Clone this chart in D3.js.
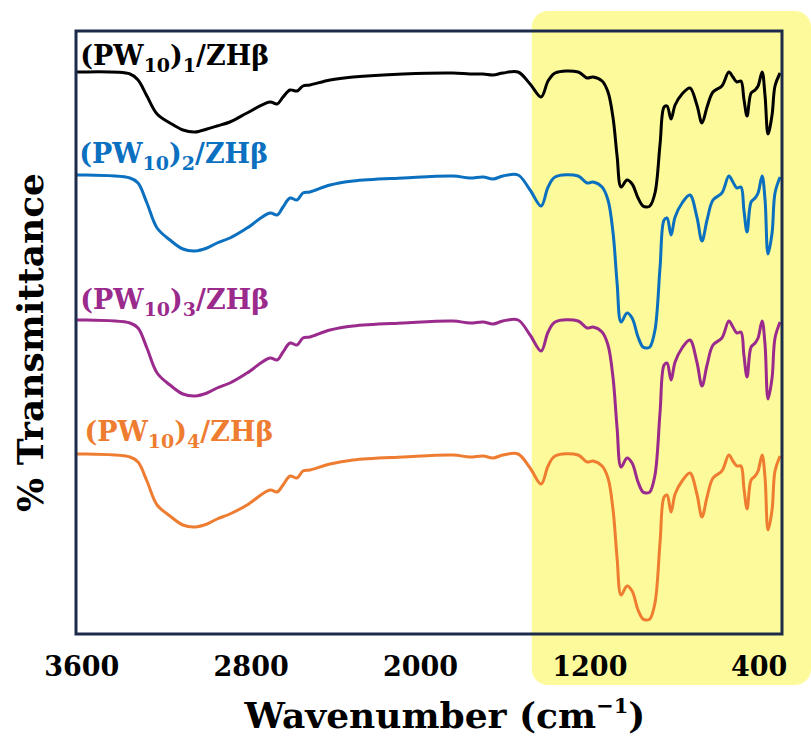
<!DOCTYPE html>
<html>
<head>
<meta charset="utf-8">
<script src="https://cdn.jsdelivr.net/npm/d3@7"></script>
<style>
  html, body { margin: 0; padding: 0; background: #fff; }
  svg { display: block; }
  text { font-family: "DejaVu Serif", serif; font-weight: bold; }
</style>
</head>
<body>
<div id="chart"></div>
<script>
// Wavenumber grid (cm-1), shared by all four spectra
const wavenumbers = [3620, 3605, 3370, 3332, 3290, 3242, 3181, 3120, 3063, 3006,
  2959, 2898, 2817, 2709, 2675, 2647, 2614, 2581, 2553, 2520,
  2425, 2316, 2080, 1844, 1764, 1702, 1655, 1608, 1537, 1480,
  1428, 1395, 1362, 1253, 1211, 1183, 1140, 1112, 1088, 1069,
  1050, 1022, 998, 970, 947, 928, 914, 890, 866, 847,
  833, 814, 795, 762, 725, 692, 668, 644, 616, 574,
  541, 522, 503, 484, 470, 455, 436, 417, 403, 384,
  370, 356, 337, 323, 299];

// Stacked transmittance (offset, arbitrary units)
const pw1 = [56.2, 56.2, 56.0, 55.4, 53.8, 52.0, 51.1, 50.4, 50.2, 50.5,
  50.8, 51.2, 52.1, 53.2, 53.0, 53.7, 54.4, 54.3, 54.8, 54.9,
  55.4, 55.7, 56.0, 56.1, 56.0, 56.0, 55.9, 56.1, 56.2, 55.0,
  53.7, 55.3, 56.1, 56.2, 55.6, 55.7, 55.3, 54.2, 51.6, 47.8,
  44.7, 45.4, 45.0, 43.6, 42.8, 42.7, 42.8, 44.1, 49.0, 52.7,
  52.8, 51.5, 52.9, 54.0, 54.6, 52.9, 51.1, 52.7, 54.2, 54.8,
  56.2, 55.7, 55.2, 55.3, 53.5, 51.8, 54.1, 54.4, 54.8, 56.2,
  53.8, 50.0, 51.9, 54.8, 56.1];

const pw2 = [45.9, 45.9, 45.6, 45.1, 43.1, 40.6, 39.4, 38.5, 38.3, 38.6,
  39.1, 39.6, 40.6, 42.1, 41.9, 42.7, 43.6, 43.4, 44.1, 44.2,
  44.9, 45.3, 45.6, 45.8, 45.6, 45.7, 45.5, 45.8, 45.9, 44.4,
  42.8, 44.7, 45.7, 45.8, 45.1, 45.2, 44.7, 43.4, 40.1, 35.1,
  31.2, 32.1, 31.6, 29.7, 28.7, 28.6, 28.7, 30.4, 36.7, 41.4,
  41.6, 39.9, 41.7, 43.1, 43.9, 41.7, 39.3, 41.4, 43.4, 44.1,
  45.8, 45.2, 44.6, 44.7, 42.4, 40.2, 43.2, 43.6, 44.1, 45.8,
  43.4, 38.0, 40.1, 44.1, 45.7];

const pw3 = [31.4, 31.4, 31.1, 30.6, 28.6, 26.1, 24.9, 24.0, 23.8, 24.1,
  24.6, 25.1, 26.1, 27.6, 27.4, 28.2, 29.1, 28.9, 29.6, 29.7,
  30.4, 30.8, 31.1, 31.3, 31.1, 31.2, 31.0, 31.3, 31.4, 29.9,
  28.3, 30.2, 31.2, 31.3, 30.6, 30.7, 30.2, 28.9, 25.6, 20.6,
  16.7, 17.6, 17.1, 15.2, 14.2, 14.1, 14.2, 15.9, 22.2, 26.9,
  27.1, 25.4, 27.2, 28.6, 29.4, 27.2, 24.8, 26.9, 28.9, 29.6,
  31.3, 30.7, 30.1, 30.2, 27.9, 25.7, 28.7, 29.1, 29.6, 31.3,
  28.9, 23.5, 25.6, 29.6, 31.2];

const pw4 = [18.0, 18.0, 17.7, 17.2, 15.3, 12.9, 11.8, 10.9, 10.7, 11.0,
  11.5, 12.0, 12.9, 14.4, 14.2, 14.9, 15.8, 15.6, 16.3, 16.4,
  17.0, 17.4, 17.7, 17.9, 17.7, 17.8, 17.6, 17.9, 18.0, 16.6,
  15.0, 16.8, 17.8, 17.9, 17.2, 17.3, 16.8, 15.6, 12.4, 7.6,
  3.9, 4.8, 4.3, 2.4, 1.5, 1.4, 1.5, 3.1, 9.2, 13.7,
  13.9, 12.2, 14.0, 15.3, 16.1, 14.0, 11.7, 13.7, 15.6, 16.3,
  17.9, 17.3, 16.8, 16.8, 14.6, 12.5, 15.4, 15.8, 16.3, 17.9,
  15.6, 10.4, 12.4, 16.3, 17.8];

const seriesNames = ['1', '2', '3', '4'];
const seriesValues = [pw1, pw2, pw3, pw4];
const seriesColors = ['#000000', '#0a70bf', '#9a2a8c', '#ee7d31'];
// label anchor in data units: wavenumber, value
const labelPos = [[3605, 56.9], [3610, 47.1], [3605, 32.5], [3585, 19.3]];

const xTicks = [3600, 2800, 2000, 1200, 400];
const highlightStart = 1472; // shaded fingerprint region begins here

const W = 811, H = 740;
const margin = { left: 76, right: 29, top: 31, bottom: 106 };

const svg = d3.select('#chart').append('svg')
  .attr('width', W).attr('height', H);

const x = d3.scaleLinear().domain([3625, 290]).range([margin.left, W - margin.right]);
const y = d3.scaleLinear().domain([0, 60.3]).range([H - margin.bottom, margin.top]);

// yellow box behind the fingerprint region, reaching below the axis
svg.append('rect')
  .attr('x', x(highlightStart))
  .attr('y', 11)
  .attr('width', W - x(highlightStart))
  .attr('height', 685 - 11)
  .attr('rx', 16)
  .attr('fill', '#fdfa9b');

const line = d3.line()
  .x((d, i) => x(wavenumbers[i]))
  .y(d => y(d))
  .curve(d3.curveCatmullRom.alpha(0.5));

svg.append('g').selectAll('path')
  .data(seriesValues)
  .join('path')
  .attr('d', d => line(d))
  .attr('fill', 'none')
  .attr('stroke', (d, i) => seriesColors[i])
  .attr('stroke-width', 3)
  .attr('stroke-linejoin', 'round');

// plot frame
svg.append('rect')
  .attr('x', margin.left)
  .attr('y', margin.top)
  .attr('width', W - margin.left - margin.right)
  .attr('height', H - margin.top - margin.bottom)
  .attr('fill', 'none')
  .attr('stroke', '#1d2b4a')
  .attr('stroke-width', 3);

// x axis labels only, no tick marks
const xAxis = d3.axisBottom(x).tickValues(xTicks).tickFormat(d3.format('d'))
  .tickSize(0).tickPadding(0);
const gx = svg.append('g')
  .attr('transform', `translate(0,${H - margin.bottom})`)
  .call(xAxis);
gx.select('.domain').remove();
gx.selectAll('text')
  .attr('y', 42)
  .attr('dy', 0)
  .attr('fill', '#000')
  .style('font-family', '"DejaVu Serif", serif')
  .style('font-weight', 'bold')
  .style('font-size', '27px');

// series labels
const labels = svg.append('g').selectAll('text')
  .data(seriesNames)
  .join('text')
  .attr('x', (d, i) => x(labelPos[i][0]))
  .attr('y', (d, i) => y(labelPos[i][1]))
  .attr('fill', (d, i) => seriesColors[i])
  .style('font-size', '27px');
labels.each(function (d) {
  const t = d3.select(this);
  t.append('tspan').text('(PW');
  t.append('tspan').attr('dy', 7).style('font-size', '19px').text('10');
  t.append('tspan').attr('dy', -7).text(')');
  t.append('tspan').attr('dy', 7).style('font-size', '19px').text(d);
  t.append('tspan').attr('dy', -7).text('/ZHβ');
});

// axis titles
const xt = svg.append('text')
  .attr('x', (margin.left + W - margin.right) / 2 + 16)
  .attr('y', 728)
  .attr('text-anchor', 'middle')
  .style('font-size', '36px');
xt.append('tspan').text('Wavenumber (cm');
xt.append('tspan').attr('dy', -15).style('font-size', '21px').text('−1');
xt.append('tspan').attr('dy', 15).text(')');

svg.append('text')
  .attr('transform', `translate(43,${(margin.top + H - margin.bottom) / 2 + 10}) rotate(-90)`)
  .attr('text-anchor', 'middle')
  .style('font-size', '36px')
  .text('% Transmittance');
</script>
</body>
</html>
